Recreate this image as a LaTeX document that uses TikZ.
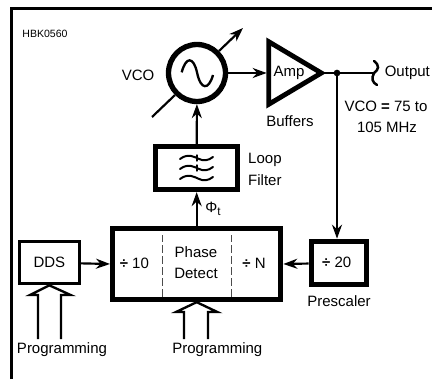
\documentclass[tikz,border=0pt]{standalone}
\usepackage{fontspec}
\setmainfont{Liberation Sans}
\usetikzlibrary{arrows.meta,positioning}

\begin{document}
\begin{tikzpicture}[x=1cm,y=1cm]
\tikzset{
  heavyblock/.style={draw=black,line width=0.16cm,inner sep=0pt,font=\fontsize{12.8pt}{15pt}\selectfont},
  lightblock/.style={draw=black,line width=0.09cm,inner sep=0pt,font=\fontsize{12.8pt}{15pt}\selectfont},
  signal/.style={draw=black,line width=0.065cm,-{Stealth[length=0.42cm,width=0.30cm]}},
  plainwire/.style={draw=black,line width=0.065cm},
  busline/.style={draw=black,line width=0.07cm,line join=miter},
  filterwave/.style={draw=black,line width=0.06cm,line cap=round},
  divider/.style={draw=black!70,line width=0.03cm,dash pattern=on 0.24cm off 0.09cm},
  caption/.style={inner sep=0pt,font=\fontsize{12.8pt}{15pt}\selectfont}
}
\useasboundingbox (0,0) rectangle (12.96,11.37);
\draw[line width=0.10cm] (0.35,0) -- (0.35,11.11) -- (12.96,11.11);
\node[heavyblock,circle,minimum size=1.71cm] (n_vco) at (5.91,9.18) {};
\node[heavyblock,minimum width=2.46cm,minimum height=1.29cm] (n_filter) at (5.90,6.33) {};
\node[heavyblock,minimum width=5.04cm,minimum height=2.13cm] (n_phase) at (5.90,3.45) {};
\node[lightblock,minimum width=1.81cm,minimum height=1.27cm] (n_dds) at (1.48,3.49) {DDS};
\node[heavyblock,minimum width=1.66cm,minimum height=1.30cm] (n_pre) at (10.17,3.48) {};
\draw[line width=0.145cm,line join=miter] (8.06,10.12) -- (9.64,9.18) -- (8.06,8.24) -- cycle;
\coordinate (n_ampin) at (8.00,9.18);
\coordinate (n_amptip) at (9.68,9.18);
\coordinate (n_split) at (10.11,9.18);
\coordinate (n_outend) at (11.19,9.18);
\coordinate (n_tunelow) at (4.56,7.86);
\coordinate (n_tunehigh) at (7.29,10.53);
\draw[divider] (4.86,2.46) -- (4.86,4.32);
\draw[divider] (6.93,2.46) -- (6.93,4.32);
\draw[line width=0.07cm] (5.45,9.20) .. controls (5.58,9.68) and (5.80,9.68) .. (5.91,9.20) .. controls (6.02,8.66) and (6.26,8.66) .. (6.39,9.12);
\foreach \yy in {6.63,6.33,6.03} {
  \draw[filterwave] (5.40,\yy-0.03) .. controls (5.65,\yy+0.16) and (5.85,\yy+0.02) .. (5.95,\yy-0.02) .. controls (6.10,\yy-0.10) and (6.25,\yy-0.08) .. (6.39,\yy+0.03);
}
\foreach \yy in {6.63,6.33} {
  \draw[filterwave,line width=0.04cm] (5.91,\yy-0.09) -- (5.91,\yy+0.09);
}
\draw[signal] (n_filter) -- (n_vco);
\draw[signal] (n_phase) -- (n_filter);
\draw[signal] (n_dds) -- (n_phase.west);
\draw[signal] (n_pre) -- (n_phase.east);
\draw[signal] (n_vco) -- (n_ampin);
\draw[plainwire] (n_amptip) -- (n_outend);
\fill (n_split) circle (0.10cm);
\draw[signal] (n_split) -- (n_split |- n_pre.north);
\draw[line width=0.075cm,line cap=round] (11.22,9.54) .. controls (11.40,9.40) and (11.36,9.28) .. (11.22,9.18) .. controls (11.14,9.02) and (11.16,8.90) .. (11.31,8.82);
\draw[plainwire] (n_tunelow) -- (n_vco.225);
\draw[signal] (n_vco.45) -- (n_tunehigh);
\draw[busline] (1.14,1.20) -- (1.14,2.52) -- (0.90,2.52) -- (n_dds.south) -- (2.12,2.52) -- (1.83,2.52) -- (1.83,1.20);
\draw[busline] (5.52,1.20) -- (5.52,2.01) -- (5.28,2.01) -- (n_phase.south) -- (6.52,2.01) -- (6.24,2.01) -- (6.24,1.20);
\node[caption,font=\fontsize{9pt}{11pt}\selectfont] (n_code) at (1.35,10.35) {HBK0560};
\node[caption] (n_vcotext) at (4.14,9.12) {VCO};
\node[caption] (n_amp) at (8.67,9.18) {Amp};
\node[caption] (n_buffers) at (8.70,7.74) {Buffers};
\node[caption] (n_output) at (12.22,9.18) {Output};
\node[caption] (n_range) at (11.58,8.19) {VCO \textbf{=} 75 to};
\node[caption] (n_rangeb) at (11.61,7.56) {105 MHz};
\node[caption,anchor=west] (n_loop) at (7.44,6.57) {Loop};
\node[caption,anchor=west] (n_filt) at (7.44,5.97) {Filter};
\node[caption] (n_phi) at (6.39,5.10) {Φ\raisebox{-0.35ex}{\fontsize{10pt}{10pt}\selectfont t}};
\node[caption] (n_div) at (4.03,3.48) {\textbf{÷} 10};
\node[caption] (n_det) at (5.88,3.81) {Phase};
\node[caption] (n_detb) at (5.88,3.18) {Detect};
\node[caption] (n_divn) at (7.62,3.48) {\textbf{÷} N};
\node[caption] (n_divp) at (10.10,3.51) {\textbf{÷} 20};
\node[caption] (n_prescaler) at (10.17,2.34) {Prescaler};
\node[caption] (n_proga) at (1.86,0.87) {Programming};
\node[caption] (n_progb) at (6.52,0.87) {Programming};
\end{tikzpicture}
\end{document}
